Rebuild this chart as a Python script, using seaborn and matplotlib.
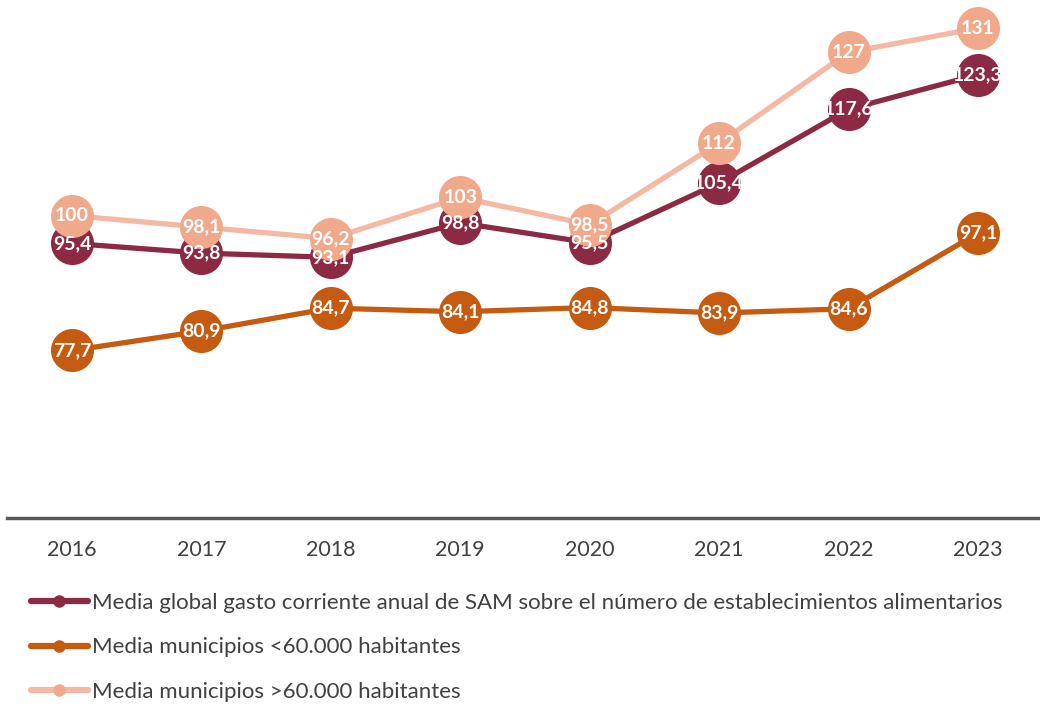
import matplotlib
matplotlib.use("Agg")
import matplotlib.pyplot as plt
from matplotlib.lines import Line2D
import seaborn as sns
import pandas as pd

years = [2016, 2017, 2018, 2019, 2020, 2021, 2022, 2023]
global_vals = [95.4, 93.8, 93.1, 98.8, 95.5, 105.4, 117.6, 123.3]
small_vals = [77.7, 80.9, 84.7, 84.1, 84.8, 83.9, 84.6, 97.1]
large_vals = [100, 98.1, 96.2, 103, 98.5, 112, 127, 131]
global_labels = ["95,4", "93,8", "93,1", "98,8", "95,5", "105,4", "117,6", "123,3"]
small_labels = ["77,7", "80,9", "84,7", "84,1", "84,8", "83,9", "84,6", "97,1"]
large_labels = ["100", "98,1", "96,2", "103", "98,5", "112", "127", "131"]
series_names = [
    "Media global gasto corriente anual de SAM sobre el número de establecimientos alimentarios",
    "Media municipios <60.000 habitantes",
    "Media municipios >60.000 habitantes",
]

sns.set_theme(style="white")
plt.rcParams['font.family'] = ['Lato', 'DejaVu Sans']

line_colors = ["#8B2A42", "#C55A11", "#F4B9A3"]
marker_colors = ["#8B2A42", "#C55A11", "#F0A98B"]

fig = plt.figure(figsize=(10.4, 7.07), dpi=100)
ax = fig.add_axes([7.3 / 1040, 189 / 707, 1035.4 / 1040, 518 / 707])

all_vals = [global_vals, small_vals, large_vals]
all_labels = [global_labels, small_labels, large_labels]
for i, (vals, name) in enumerate(zip(all_vals, series_names)):
    df = pd.DataFrame({"year": years, "value": vals})
    sns.lineplot(data=df, x="year", y="value", ax=ax, color=line_colors[i],
                 linewidth=3.8, marker="o", markersize=31,
                 markerfacecolor=marker_colors[i], markeredgewidth=0,
                 zorder=2 + i, clip_on=False)

for vals, labs in zip(all_vals, all_labels):
    for x, v, s in zip(years, vals, labs):
        ax.text(x, v, s, ha="center", va="center", color="white",
                fontsize=14, fontweight="bold", zorder=10)

ax.set_xlim(2015.5, 2023.5)
ax.set_ylim(50, 135.65)
ax.set_xticks(years)
ax.set_xticklabels([str(y) for y in years], fontsize=15.5, color="#404040")
ax.set_yticks([])
ax.set_xlabel("")
ax.set_ylabel("")
for s in ["top", "right", "left"]:
    ax.spines[s].set_visible(False)
ax.spines["bottom"].set_color("#595959")
ax.spines["bottom"].set_linewidth(2.5)
ax.tick_params(axis="x", length=0, pad=16)
if ax.get_legend():
    ax.get_legend().remove()

handles = [Line2D([0], [0], color=line_colors[i], linewidth=4.5, marker="o",
                  markersize=9, markerfacecolor=marker_colors[i], markeredgewidth=0)
           for i in range(3)]
fig.legend(handles, series_names, loc="upper left",
           bbox_to_anchor=(31 / 1040, 1 - 593 / 707), frameon=False,
           fontsize=16, labelcolor="#404040", borderpad=0, borderaxespad=0,
           handlelength=2.55, handletextpad=0.2, labelspacing=1.1)

fig.savefig("out.png", dpi=100)
